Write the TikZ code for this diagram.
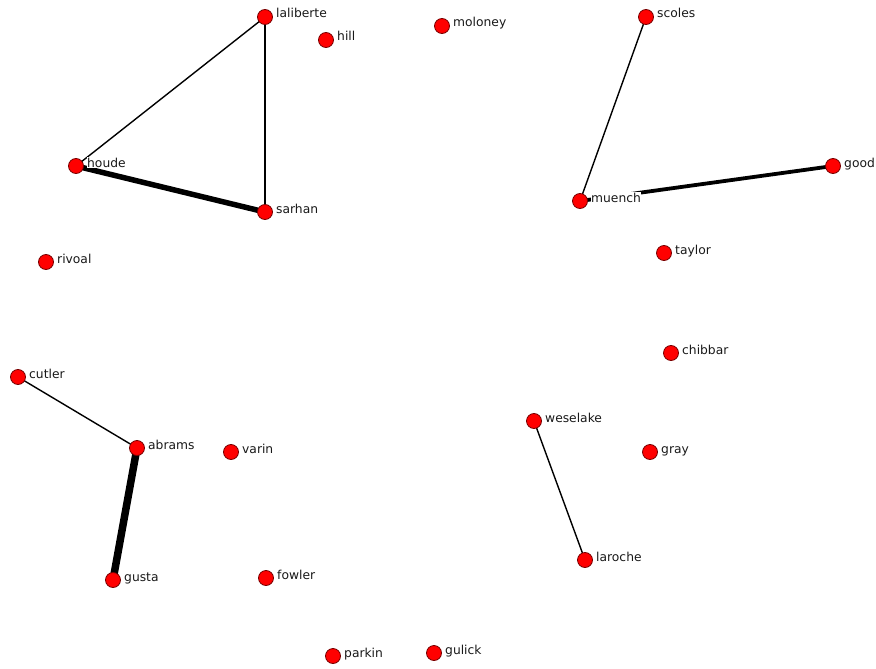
\documentclass[tikz,border=0pt]{standalone}
\usepackage{fontspec}
\setmainfont{DejaVu Sans}
\begin{document}
\begin{tikzpicture}[x=1pt,y=-1pt,
  vertex/.style={circle,fill=red,draw={rgb,255:red,120;green,0;blue,0},line width=0.8pt,minimum size=15pt,inner sep=0pt},
  lbl/.style={anchor=base west,fill=white,inner sep=0.5pt,font=\fontsize{12.3}{12}\selectfont,text=black!90},
  thin/.style={line width=1.4pt},
  thickA/.style={line width=5.5pt},
  thickB/.style={line width=3.8pt},
  thickC/.style={line width=7.5pt}]
\useasboundingbox (0,0) rectangle (876,669);
\coordinate (laliberte) at (265,17);
\coordinate (hill) at (326,40);
\coordinate (moloney) at (442,26);
\coordinate (scoles) at (646,17);
\coordinate (houde) at (76,166);
\coordinate (sarhan) at (265,212);
\coordinate (muench) at (580,201);
\coordinate (good) at (833,166);
\coordinate (taylor) at (664,253);
\coordinate (rivoal) at (46,262);
\coordinate (chibbar) at (671,353);
\coordinate (cutler) at (18,377);
\coordinate (weselake) at (534,421);
\coordinate (abrams) at (137,448);
\coordinate (varin) at (231,452);
\coordinate (gray) at (650,452);
\coordinate (gusta) at (113,580);
\coordinate (fowler) at (266,578);
\coordinate (laroche) at (585,560);
\coordinate (parkin) at (333,656);
\coordinate (gulick) at (434,653);
% edges
\draw[thin] (laliberte) -- (houde);
\draw[thin] (laliberte) -- (sarhan);
\draw[thickA] (houde) -- (sarhan);
\draw[thin] (scoles) -- (muench);
\draw[thickB] (muench) -- (good);
\draw[thin] (cutler) -- (abrams);
\draw[thickC] (abrams) -- (gusta);
\draw[thin] (weselake) -- (laroche);
% labels
\foreach \n in {laliberte,hill,moloney,scoles,houde,sarhan,muench,good,taylor,rivoal,chibbar,cutler,weselake,abrams,varin,gray,gusta,fowler,laroche,parkin,gulick}{
  \node[lbl] (\n-l) at ([xshift=10.5pt,yshift=-1pt]\n) {\n};
}
% vertices
\foreach \n in {laliberte,hill,moloney,scoles,houde,sarhan,muench,good,taylor,rivoal,chibbar,cutler,weselake,abrams,varin,gray,gusta,fowler,laroche,parkin,gulick}{
  \node[vertex] (\n-v) at (\n) {};
}
\end{tikzpicture}
\end{document}
